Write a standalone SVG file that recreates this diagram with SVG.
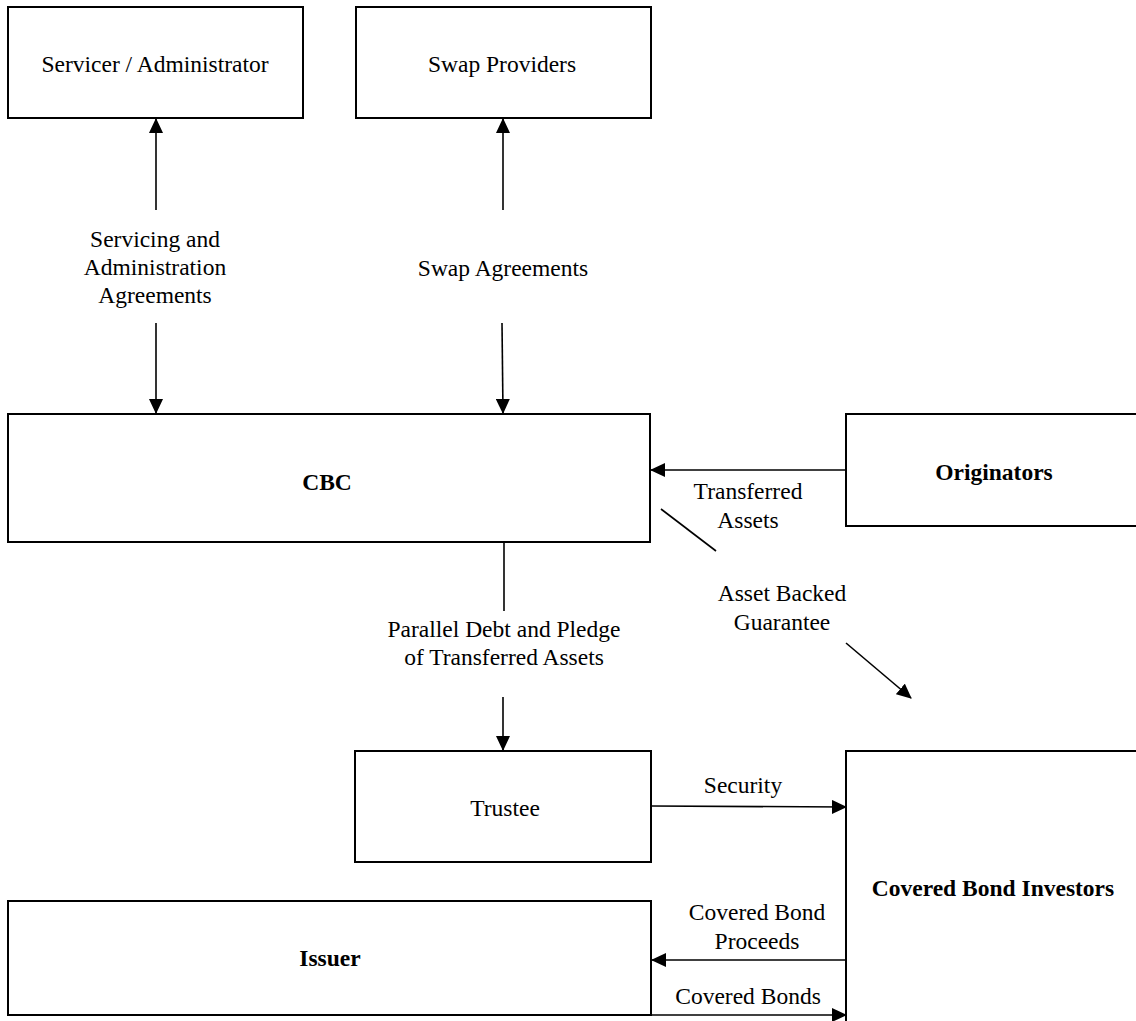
<svg xmlns="http://www.w3.org/2000/svg" width="1136" height="1021" viewBox="0 0 1136 1021" font-family="'Liberation Serif', 'Times New Roman', Times, serif">
<style>
text{font-family:'Liberation Serif','Times New Roman',Times,serif}
.box{fill:#fff;stroke:#000;stroke-width:2}
.t{font-size:23.5px;fill:#000;text-anchor:middle}
.b{font-weight:bold}
.c{stroke:#000;stroke-width:1.6;fill:none}
</style>
<defs>
<marker id="ah" markerWidth="15" markerHeight="14" refX="14" refY="7" orient="auto" markerUnits="userSpaceOnUse">
<path d="M0,0 L15,7 L0,14 Z" fill="#000"/>
</marker>
</defs>
<rect width="1136" height="1021" fill="#fff"/>
<g id="servicer"><rect class="box" x="8" y="7" width="295" height="111"/><text class="t" x="155" y="72">Servicer / Administrator</text></g>
<g id="swap"><rect class="box" x="356" y="7" width="295" height="111"/><text class="t" x="502" y="72">Swap Providers</text></g>
<g id="cbc"><rect class="box" x="8" y="414" width="642" height="128"/><text class="t b" x="327" y="490">CBC</text></g>
<g id="originators"><rect class="box" x="846" y="414" width="300" height="112"/><text class="t b" x="994" y="480">Originators</text></g>
<g id="trustee"><rect class="box" x="355" y="751" width="296" height="111"/><text class="t" x="505" y="816">Trustee</text></g>
<g id="investors"><rect class="box" x="846" y="751" width="300" height="300"/><text class="t b" x="993" y="896">Covered Bond Investors</text></g>
<g id="issuer"><rect class="box" x="8" y="901" width="643" height="114"/><text class="t b" x="330" y="966">Issuer</text></g>
<g id="connectors">
<line class="c" x1="156" y1="210" x2="156" y2="119" marker-end="url(#ah)"/>
<line class="c" x1="156" y1="323" x2="156" y2="413" marker-end="url(#ah)"/>
<line class="c" x1="503" y1="210" x2="503" y2="119" marker-end="url(#ah)"/>
<line class="c" x1="502" y1="323" x2="503" y2="413" marker-end="url(#ah)"/>
<line class="c" x1="846" y1="470" x2="651" y2="470" marker-end="url(#ah)"/>
<line class="c" x1="661" y1="509" x2="716" y2="551"/>
<line class="c" x1="846" y1="643" x2="911" y2="698" marker-end="url(#ah)"/>
<line class="c" x1="504" y1="542" x2="504" y2="611"/>
<line class="c" x1="503" y1="697" x2="503" y2="750" marker-end="url(#ah)"/>
<line class="c" x1="651" y1="806" x2="846" y2="807" marker-end="url(#ah)"/>
<line class="c" x1="846" y1="960" x2="652" y2="960" marker-end="url(#ah)"/>
<line class="c" x1="651" y1="1015" x2="846" y2="1015" marker-end="url(#ah)"/>
</g>
<g id="labels">
<text class="t" x="155" y="247">Servicing  and</text>
<text class="t" x="155" y="275">Administration</text>
<text class="t" x="155" y="303">Agreements</text>
<text class="t" x="503" y="276">Swap Agreements</text>
<text class="t" x="748" y="499">Transferred</text>
<text class="t" x="748" y="528">Assets</text>
<text class="t" x="782" y="601">Asset Backed</text>
<text class="t" x="782" y="630">Guarantee</text>
<text class="t" x="504" y="637">Parallel  Debt and Pledge</text>
<text class="t" x="504" y="665">of Transferred Assets</text>
<text class="t" x="743" y="793">Security</text>
<text class="t" x="757" y="920">Covered Bond</text>
<text class="t" x="757" y="949">Proceeds</text>
<text class="t" x="748" y="1004">Covered Bonds</text>
</g>
</svg>
